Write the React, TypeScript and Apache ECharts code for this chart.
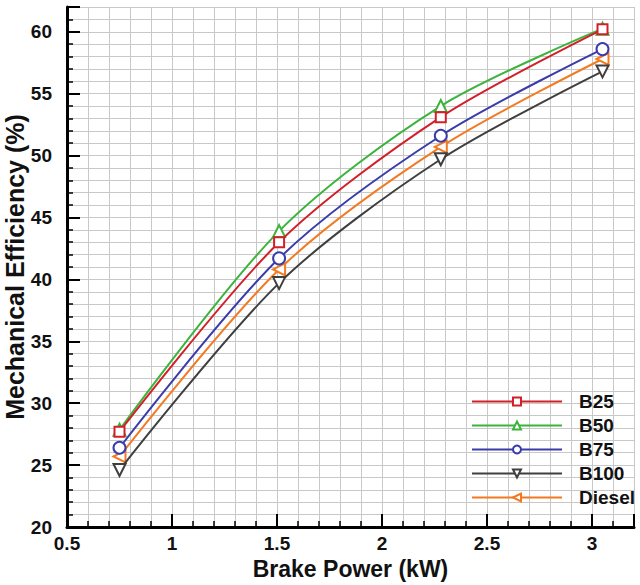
import React, { useEffect, useRef } from "react";
import * as echarts from "echarts";

const xValues = [0.75, 1.51, 2.28, 3.05];
const seriesNames = ["B25", "B50", "B75", "B100", "Diesel"];
const b25 = [27.7, 43.0, 53.1, 60.2];
const b50 = [27.85, 43.9, 54.0, 60.25];
const b75 = [26.4, 41.7, 51.6, 58.6];
const b100 = [24.6, 39.7, 49.7, 56.8];
const diesel = [25.7, 40.8, 50.7, 57.8];

const seriesValues = [b25, b50, b75, b100, diesel];
const colors = ["#d2202a", "#3cb43c", "#3a3caa", "#3f3f3f", "#f27a22"];
const symbols = ["rect", "triangle", "circle", "triangle", "triangle"];
const symbolSizes = [10, 12, 12, 12, 12];
const rotations = [0, 0, 0, 180, 90];

const FONT = "'Liberation Sans', Arial, sans-serif";

export default function App() {
  const ref = useRef<HTMLDivElement>(null);
  useEffect(() => {
    if (!ref.current) return;
    const chart = echarts.init(ref.current, null, { renderer: "svg" });
    const gridColor = "#c8c8c8";
    const axisCommon = {
      axisLine: { show: true, onZero: false, lineStyle: { color: "#000", width: 3 } },
      axisTick: { show: true, inside: true, length: 13, lineStyle: { color: "#000", width: 2 } },
      minorTick: { show: true, splitNumber: 5, length: 6, lineStyle: { color: "#000", width: 1.5 } },
      splitLine: { show: true, lineStyle: { color: gridColor, width: 1 } },
      minorSplitLine: { show: true, lineStyle: { color: gridColor, width: 1 } },
      nameLocation: "middle" as const,
      nameMoveOverlap: false,
      nameTextStyle: { fontFamily: FONT, fontWeight: "bold" as const, color: "#111" },
    };
    chart.setOption({
      animation: false,
      backgroundColor: "#fff",
      grid: { left: 67, right: 6, top: 7, bottom: 58, outerBoundsMode: "none", containLabel: false },
      xAxis: {
        type: "value",
        min: 0.5,
        max: 3.2,
        interval: 0.5,
        name: "Brake Power (kW)",
        nameGap: 30,
        ...axisCommon,
        nameTextStyle: { ...axisCommon.nameTextStyle, fontSize: 23 },
        axisLabel: {
          showMaxLabel: false,
          margin: 7,
          fontFamily: FONT,
          fontWeight: "bold",
          fontSize: 19,
          color: "#111",
        },
      },
      yAxis: {
        type: "value",
        min: 20,
        max: 62,
        interval: 5,
        name: "Mechanical Efficiency (%)",
        nameGap: 40,
        ...axisCommon,
        nameTextStyle: { ...axisCommon.nameTextStyle, fontSize: 25 },
        axisLabel: {
          showMaxLabel: false,
          margin: 15,
          fontFamily: FONT,
          fontWeight: "bold",
          fontSize: 19,
          color: "#111",
        },
      },
      legend: {
        orient: "vertical",
        left: 466,
        top: 387,
        itemWidth: 90,
        itemHeight: 10,
        itemGap: 5,
        data: seriesNames,
        textStyle: {
          fontFamily: FONT,
          fontWeight: "bold",
          fontSize: 19,
          color: "#111",
          padding: [0, 0, 0, 12],
        },
      },
      series: seriesNames.map((name, i) => ({
        name,
        type: "line",
        smooth: 0.3,
        data: xValues.map((x, j) => [x, seriesValues[i][j]]),
        symbol: symbols[i],
        symbolSize: symbolSizes[i],
        symbolRotate: rotations[i],
        showAllSymbol: true,
        lineStyle: { color: colors[i], width: 2 },
        itemStyle: { color: "#fff", borderColor: colors[i], borderWidth: 2 },
        z: 10 - i,
      })),
    });
    return () => chart.dispose();
  }, []);
  return (
    <div
      ref={ref}
      style={{ position: "fixed", left: 0, top: 0, width: 640, height: 585 }}
    />
  );
}
